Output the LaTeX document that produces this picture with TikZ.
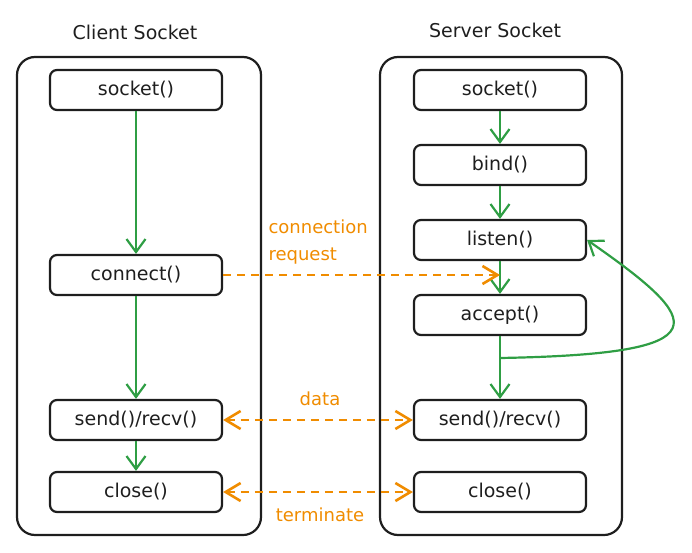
\documentclass[tikz,border=0pt]{standalone}
\usepackage{fontspec}
\setmainfont{DejaVu Sans}
\usetikzlibrary{arrows.meta}
\definecolor{ink}{HTML}{1E1E1E}
\definecolor{flowgreen}{HTML}{2F9E44}
\definecolor{msgorange}{HTML}{F08C00}

\begin{document}
\begin{tikzpicture}[x=1pt,y=-1pt,
  container/.style={draw=ink,line width=2.2pt,rounded corners=18pt},
  heading/.style={text=ink,font=\fontsize{19}{22}\selectfont},
  callbox/.style={draw=ink,line width=2.2pt,rounded corners=7pt,minimum width=172pt,minimum height=40pt,inner sep=0pt,text=ink,font=\fontsize{19}{22}\selectfont},
  flow/.style={draw=flowgreen,line width=2.2pt,-{Straight Barb[length=13pt,width=19pt,line width=2.2pt]}},
  msg/.style={draw=msgorange,line width=2.6pt,dash pattern=on 8pt off 6pt},
  msgtip/.tip={Straight Barb[length=15pt,width=18pt,line width=2.6pt]},
  msglabel/.style={text=msgorange,font=\fontsize{18}{27}\selectfont}]
  \useasboundingbox (0,0) rectangle (692,553);
  \begin{scope}
    \draw[container] (17,57) rectangle (261,535);
    \node[heading] (clienttitle) at (135,32) {Client Socket};
    \node[callbox] (csocket) at (136,90) {socket()};
    \node[callbox] (cconnect) at (136,275) {connect()};
    \node[callbox] (csend) at (136,420) {send()/recv()};
    \node[callbox] (cclose) at (136,492) {close()};
    \draw[flow] (csocket) -- (cconnect);
    \draw[flow] (cconnect) -- (csend);
    \draw[flow] (csend) -- (cclose);
  \end{scope}
  \begin{scope}
    \draw[container] (380,57) rectangle (622,535);
    \node[heading] (servertitle) at (495,30) {Server Socket};
    \node[callbox] (ssocket) at (500,90) {socket()};
    \node[callbox] (sbind) at (500,165) {bind()};
    \node[callbox] (slisten) at (500,240) {listen()};
    \node[callbox] (saccept) at (500,315) {accept()};
    \node[callbox] (ssend) at (500,420) {send()/recv()};
    \node[callbox] (sclose) at (500,492) {close()};
    \draw[flow] (ssocket) -- (sbind);
    \draw[flow] (sbind) -- (slisten);
    \draw[flow] (slisten) -- (saccept);
    \draw[flow] (saccept) -- (ssend);
    \coordinate (fork) at (500,358);
    \draw[flow] (fork) .. controls (725,354) and (705,322) .. (slisten.east);
  \end{scope}
  \coordinate (handoff) at (slisten.south |- cconnect);
  \draw[msg,-msgtip] (cconnect) -- (handoff);
  \draw[msg,msgtip-msgtip] (csend) -- (ssend);
  \draw[msg,msgtip-msgtip] (cclose) -- (sclose);
  \node[msglabel,align=left,anchor=west] (reqlabel) at (265,242) {connection\\request};
  \node[msglabel] (datalabel) at (320,399) {data};
  \node[msglabel] (termlabel) at (320,515) {terminate};
\end{tikzpicture}
\end{document}
